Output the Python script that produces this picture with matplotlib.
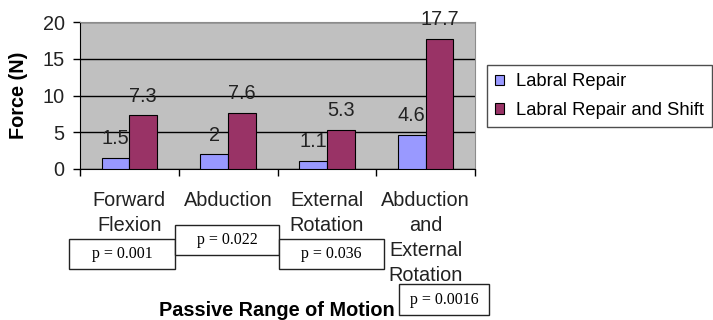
import matplotlib
matplotlib.use("Agg")
import matplotlib.pyplot as plt
from matplotlib.patches import Rectangle

# Data
categories = ["Forward\nFlexion", "Abduction", "External\nRotation",
              "Abduction\nand\nExternal\nRotation"]
labral_repair = [1.5, 2, 1.1, 4.6]
labral_shift = [7.3, 7.6, 5.3, 17.7]
series_names = ["Labral Repair", "Labral Repair and Shift"]
p_values = ["p = 0.001", "p = 0.022", "p = 0.036", "p = 0.0016"]

plt.rcParams['font.family'] = ['Liberation Sans', 'DejaVu Sans']
FS = 14.3

W, H = 713, 320
fig = plt.figure(figsize=(W / 100, H / 100), dpi=100)
ax = fig.add_axes([80 / W, 1 - 169 / H, (475 - 80) / W, (169 - 22) / H])
ax.set_facecolor("#C0C0C0")

x = range(len(categories))
bw = 0.28
b1 = ax.bar([i - bw / 2 for i in x], labral_repair, bw, color="#9999FF",
            edgecolor="black", linewidth=0.8, label=series_names[0], zorder=3)
b2 = ax.bar([i + bw / 2 for i in x], labral_shift, bw, color="#993366",
            edgecolor="black", linewidth=0.8, label=series_names[1], zorder=3)

for bars in (b1, b2):
    for rect in bars:
        v = rect.get_height()
        ax.annotate(f"{v:g}", (rect.get_x() + rect.get_width() / 2, v),
                    xytext=(0, 7), textcoords="offset points",
                    ha="center", va="bottom", fontsize=FS, color="#222222",
                    zorder=4)

ax.set_ylim(0, 20)
ax.set_yticks([0, 5, 10, 15, 20])
ax.set_xlim(-0.5, len(categories) - 0.5)
ax.yaxis.grid(True, color="black", linewidth=1, zorder=1)
ax.tick_params(axis="y", labelsize=FS, length=5, width=1, pad=6,
               labelcolor="#222222")
ax.set_xticks([i - 0.5 for i in range(len(categories) + 1)])
ax.set_xticklabels([])
ax.tick_params(axis="x", length=5, width=1)
for s in ("top", "right"):
    ax.spines[s].set_color("#8c8c8c")
for s in ("left", "bottom"):
    ax.spines[s].set_color("black")

# category labels under the axis
for i, lab in enumerate(categories):
    ax.text(i, -0.15, lab, transform=ax.get_xaxis_transform(),
            ha="center", va="top", fontsize=FS, color="#222222",
            linespacing=1.4)

ax.set_ylabel("Force (N)", fontsize=FS, fontweight="bold")
ax.yaxis.set_label_coords(-0.132, 0.5)
fig.text(277 / W, 1 - 310 / H, "Passive Range of Motion", ha="center",
         va="center", fontsize=FS, fontweight="bold")

# p-value boxes (pixel layout)
boxes = [(69, 239, 175, 269), (175, 225, 279, 255),
         (279, 239, 384, 269), (399, 284, 489, 315)]
for (x0, y0, x1, y1), ptxt in zip(boxes, p_values):
    fig.patches.append(Rectangle((x0 / W, 1 - y1 / H), (x1 - x0) / W,
                                 (y1 - y0) / H, transform=fig.transFigure,
                                 facecolor="white", edgecolor="#222222",
                                 linewidth=1))
    fig.text((x0 + x1) / 2 / W, 1 - (y0 + y1) / 2 / H, ptxt, ha="center",
             va="center", fontsize=11.5, family="Liberation Serif")

fig.legend(handles=[b1, b2], labels=series_names, loc="upper left",
           bbox_to_anchor=(487 / W, 1 - 65 / H), fontsize=13.2,
           frameon=True, fancybox=False, edgecolor="#222222",
           handlelength=0.5, handleheight=0.5, handletextpad=0.65,
           borderpad=0.45, labelspacing=0.65, borderaxespad=0)

fig.savefig("out.png", dpi=100)
